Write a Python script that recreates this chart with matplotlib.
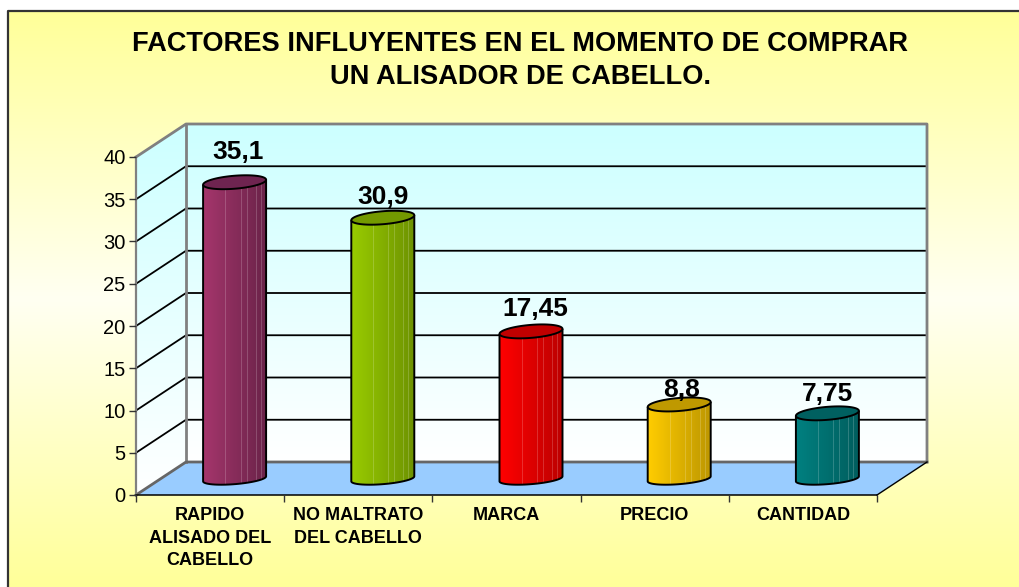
import numpy as np
import matplotlib
matplotlib.use('Agg')
import matplotlib.pyplot as plt
from matplotlib.colors import to_rgb
from matplotlib.patches import Polygon

plt.rcParams['font.family'] = ['Liberation Sans', 'DejaVu Sans']

# datos del grafico
categorias = ['RAPIDO\nALISADO DEL\nCABELLO', 'NO MALTRATO\nDEL CABELLO', 'MARCA', 'PRECIO', 'CANTIDAD']
valores = [35.1, 30.9, 17.45, 8.8, 7.75]
etiquetas = ['35,1', '30,9', '17,45', '8,8', '7,75']
marcas_y = [0, 5, 10, 15, 20, 25, 30, 35, 40]

# color claro, color oscuro y tapa de cada cilindro
claros = ['#A5366C', '#99CC00', '#FF0000', '#FFCC00', '#008080']
oscuros = ['#6A2349', '#6E9300', '#BC0000', '#BD9700', '#005E5E']
tapas = ['#6E2450', '#739900', '#C00000', '#BF9900', '#006060']
# ajuste a mano de las etiquetas (pixeles)
ajuste_x = [3.5, 0, 4, 2, 0.5]
ajuste_y = [12, 2, 4, -4, 1]

W, H = 1019, 587
fig = plt.figure(figsize=(W / 100, H / 100), dpi=100, facecolor='white')

# fondo degradado amarillo, con borde solo arriba e izquierda
bg = fig.add_axes([0, 0, 1, 1], zorder=0)
bg.set_xlim(0, W)
bg.set_ylim(H, 0)
bg.axis('off')
t = np.abs(np.linspace(-1, 1, 256))[:, None, None]
c1 = np.array(to_rgb('#FFFF99'))
c2 = np.array(to_rgb('#FFFFF2'))
bg.imshow(c2 + (c1 - c2) * t, extent=[8, W, H, 11], aspect='auto')
bg.plot([8, 8, W], [H, 10.5, 10.5], color='#333333', lw=1.6)
bg.set_xlim(0, W)
bg.set_ylim(H, 0)

# ejes sobre la cara frontal del grafico 3D
x0, x1, y0, y40 = 136, 877, 495, 157
ax = fig.add_axes([x0 / W, 1 - y0 / H, (x1 - x0) / W, (y0 - y40) / H], zorder=1)
ax.patch.set_visible(False)
px_x = (x1 - x0) / 5
px_y = (y0 - y40) / 40
DX = 50 / px_x
DY = 33 / px_y
n = len(valores)


def degradado(arr, extent, verts, z):
    im = ax.imshow(arr, extent=extent, aspect='auto', zorder=z, interpolation='nearest')
    im.set_clip_box(fig.bbox)
    poly = Polygon(verts, closed=True, transform=ax.transData)
    im.set_clip_path(poly)
    return im


# paredes y piso
pared = np.linspace(to_rgb('#CCFFFF'), to_rgb('#FFFFFF'), 256)[:, None, :]
degradado(pared, [DX, n + DX, DY, 40 + DY],
          [(DX, DY), (n + DX, DY), (n + DX, 40 + DY), (DX, 40 + DY)], 1)
degradado(pared, [0, DX, 0, 40 + DY],
          [(0, 0), (DX, DY), (DX, 40 + DY), (0, 40)], 1)
ax.add_patch(Polygon([(0, 0), (n, 0), (n + DX, DY), (DX, DY)], closed=True,
                     facecolor='#99CCFF', edgecolor='none', zorder=1, clip_on=False))

# lineas de division
for v in marcas_y[1:-1]:
    ax.plot([0, DX, n + DX], [v, v + DY, v + DY], color='black', lw=1.3, zorder=2,
            clip_on=False, solid_joinstyle='miter')

gris = '#808080'
ax.plot([DX, DX], [DY, 40 + DY], color=gris, lw=2, zorder=2, clip_on=False)
ax.plot([0, DX, n + DX, n + DX], [40, 40 + DY, 40 + DY, DY], color=gris, lw=2, zorder=2, clip_on=False)
ax.plot([0, DX, n + DX], [0, DY, DY], color='#666666', lw=2, zorder=2, clip_on=False)
ax.plot([n, n + DX], [0, DY], color='black', lw=1, zorder=2, clip_on=False)

# cilindros
a, k, b = 31.5, 2.5, 6.5
prof = 24.5 / px_x
franjas = [0.36, 0.61, 0.7, 0.84, 0.93]
for i, v in enumerate(valores):
    cx = i + 0.5 + prof
    base = 0.49 * DY
    top = base + v
    s = np.linspace(np.pi, 2 * np.pi, 40)
    ax_arc = cx + a * np.cos(s) / px_x
    ay_arc = (k * np.cos(s) + b * 0.82 * np.sin(s)) / px_y
    cuerpo = [(ax_arc[0], top + ay_arc[0])] + list(zip(ax_arc, base + ay_arc)) + [(ax_arc[-1], top + ay_arc[-1])]

    # sombreado vertical con franjas finas
    ramp = np.linspace(to_rgb(claros[i]), to_rgb(oscuros[i]), 63)
    for f in franjas:
        j = int(f * 62)
        ramp[j] = ramp[j] + (1 - ramp[j]) * 0.18
    degradado(ramp[None, :, :], [cx - a / px_x, cx + a / px_x, base - 2, top + 2], cuerpo, 3)
    ax.add_patch(Polygon(cuerpo, closed=False, fill=False, edgecolor='black', lw=1.4, zorder=4, clip_on=False))

    s = np.linspace(0, 2 * np.pi, 80)
    tapa = np.column_stack([cx + a * np.cos(s) / px_x,
                            top + (k * np.cos(s) + b * np.sin(s)) / px_y])
    ax.add_patch(Polygon(tapa, closed=True, facecolor=tapas[i], edgecolor='black', lw=1.4, zorder=5, clip_on=False))

    ax.annotate(etiquetas[i], xy=(cx, top + b / px_y), xytext=(ajuste_x[i], ajuste_y[i]),
                textcoords='offset pixels', ha='center', va='bottom', fontsize=19,
                fontweight='bold', color='black', zorder=6, annotation_clip=False)

ax.set_xlim(0, n)
ax.set_ylim(0, 40)

for lado in ['top', 'right']:
    ax.spines[lado].set_visible(False)
ax.spines['left'].set_color(gris)
ax.spines['left'].set_linewidth(1.6)
ax.spines['bottom'].set_color('black')
ax.spines['bottom'].set_linewidth(1.1)
ax.set_axisbelow(False)

ax.set_yticks(marcas_y)
ax.tick_params(axis='y', length=5, width=1, color='#333333', labelsize=14.5, pad=2.5)
ax.set_xticks(np.arange(n + 1))
ax.set_xticklabels([])
ax.tick_params(axis='x', which='major', length=5, width=1, color='#333333')
ax.set_xticks(np.arange(n) + 0.5, minor=True)
ax.set_xticklabels(categorias, minor=True, fontsize=13, fontweight='bold', linespacing=1.4)
ax.tick_params(axis='x', which='minor', length=0, pad=9)

fig.text(520 / W, 1 - 60.5 / H, 'FACTORES INFLUYENTES EN EL MOMENTO DE COMPRAR\nUN ALISADOR DE CABELLO.',
         ha='center', va='center', fontsize=19.6, fontweight='bold', linespacing=1.36, zorder=3)

fig.savefig('out.png', dpi=100)
